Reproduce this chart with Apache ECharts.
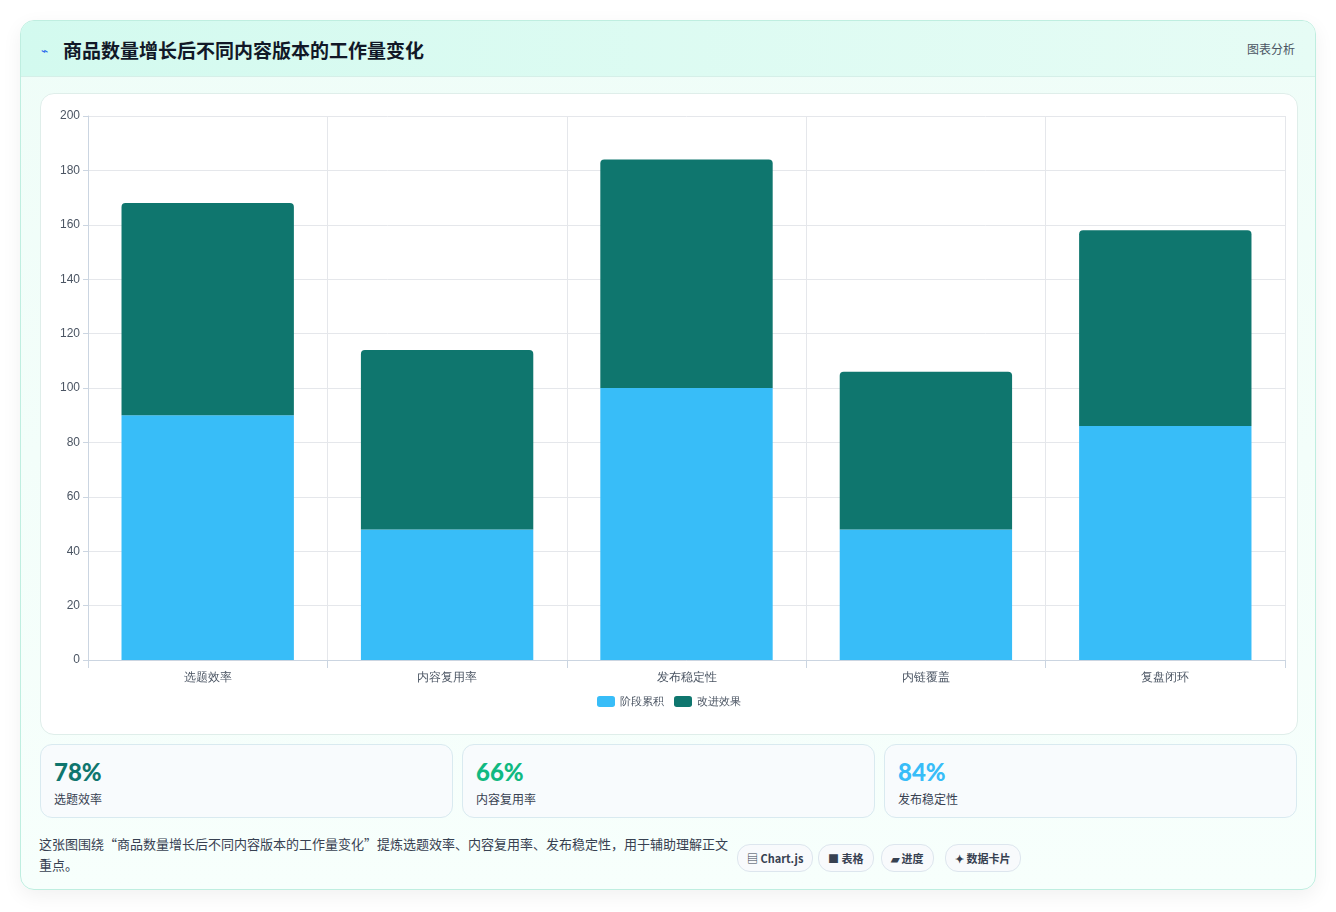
<!DOCTYPE html>
<html><head><meta charset="utf-8">
<script src="https://cdn.jsdelivr.net/npm/echarts@6/dist/echarts.min.js"></script>
<style>
body{margin:0;background:#fff;font-family:"Noto Sans CJK SC","Noto Sans",sans-serif;width:1336px;height:912px;overflow:hidden}
.card{position:absolute;left:20px;top:20px;width:1294px;height:868px;border:1px solid #bfeee0;border-radius:14px;background:linear-gradient(180deg,#effdf8,#f7fffc);box-shadow:0 6px 20px rgba(0,0,0,.06);overflow:hidden}
.head{height:55px;background:linear-gradient(90deg,#d3faef,#e6fcf5);border-bottom:1px solid #d5efe8;position:relative}
.title{position:absolute;left:42px;top:15px;font-size:19px;font-weight:700;color:#111827}
.ico{position:absolute;left:20px;top:20px;font-size:12px;color:#2563eb}
.tag{position:absolute;right:20px;top:19px;font-size:12px;color:#4b5563}
#chart{position:absolute;left:19px;top:72px;width:1256px;height:640px;background:#fff;border:1px solid #dfeeea;border-radius:14px}
.kpi{position:absolute;top:723px;width:411px;height:72px;border:1px solid #d9eaf0;border-radius:12px;background:#f8fbfd}
.kpi b{position:absolute;left:13px;top:12px;font-size:24px;font-family:Lato,"Noto Sans",sans-serif;font-weight:900}
.kpi span{position:absolute;left:13px;top:45px;font-size:12px;color:#374151}
.desc{position:absolute;left:18px;top:812px;width:690px;font-size:13px;line-height:21px;color:#374151}
.chip{position:absolute;top:823px;height:26px;line-height:26px;padding:0 9px;border:1px solid #dde6ee;border-radius:13px;background:#f8fafc;font-size:11px;font-weight:700;color:#374151}
</style></head><body>
<div class="card">
<div class="head"><span class="ico">⌁</span><span class="title">商品数量增长后不同内容版本的工作量变化</span><span class="tag">图表分析</span></div>
<div id="chart"></div>
<div class="kpi" style="left:19px"><b style="color:#0f766e">78%</b><span>选题效率</span></div>
<div class="kpi" style="left:441px"><b style="color:#10b981">66%</b><span>内容复用率</span></div>
<div class="kpi" style="left:863px"><b style="color:#38bdf8">84%</b><span>发布稳定性</span></div>
<div class="desc">这张图围绕“商品数量增长后不同内容版本的工作量变化”提炼选题效率、内容复用率、发布稳定性，用于辅助理解正文重点。</div>
<div class="chip" style="left:716px">▤ Chart.js</div>
<div class="chip" style="left:797px">■ 表格</div>
<div class="chip" style="left:860px">▰ 进度</div>
<div class="chip" style="left:924px">✦ 数据卡片</div>
</div>
<script>
const categories=["选题效率","内容复用率","发布稳定性","内链覆盖","复盘闭环"];
const stageValues=[90,48,100,48,86];
const improveValues=[78,66,84,58,72];
const seriesNames=["阶段累积","改进效果"];
const ch=echarts.init(document.getElementById('chart'));
ch.setOption({
 animation:false,
 grid:{left:47,right:12,top:22,bottom:74},
 legend:{bottom:22,itemWidth:18,itemHeight:11,itemGap:10,textStyle:{color:'#4b5563',fontSize:11},data:seriesNames},
 xAxis:{type:'category',data:categories,axisLine:{lineStyle:{color:'#cbd5e1'}},axisTick:{show:true,lineStyle:{color:'#cbd5e1'},length:8},
   axisLabel:{color:'#4b5563',fontSize:12,margin:12},splitLine:{show:true,lineStyle:{color:'#e5e7eb'}}},
 yAxis:{type:'value',min:0,max:200,interval:20,axisLine:{show:true,lineStyle:{color:'#cbd5e1'}},axisTick:{show:true,lineStyle:{color:'#cbd5e1'}},
   axisLabel:{color:'#4b5563',fontSize:12},splitLine:{lineStyle:{color:'#e5e7eb'}}},
 series:[
  {name:seriesNames[0],type:'bar',stack:'a',data:stageValues,barWidth:'72%',itemStyle:{color:'#38bdf8'}},
  {name:seriesNames[1],type:'bar',stack:'a',data:improveValues,barWidth:'72%',itemStyle:{color:'#0f766e',borderRadius:[4,4,0,0]}}
 ]
});
</script>
</body></html>
